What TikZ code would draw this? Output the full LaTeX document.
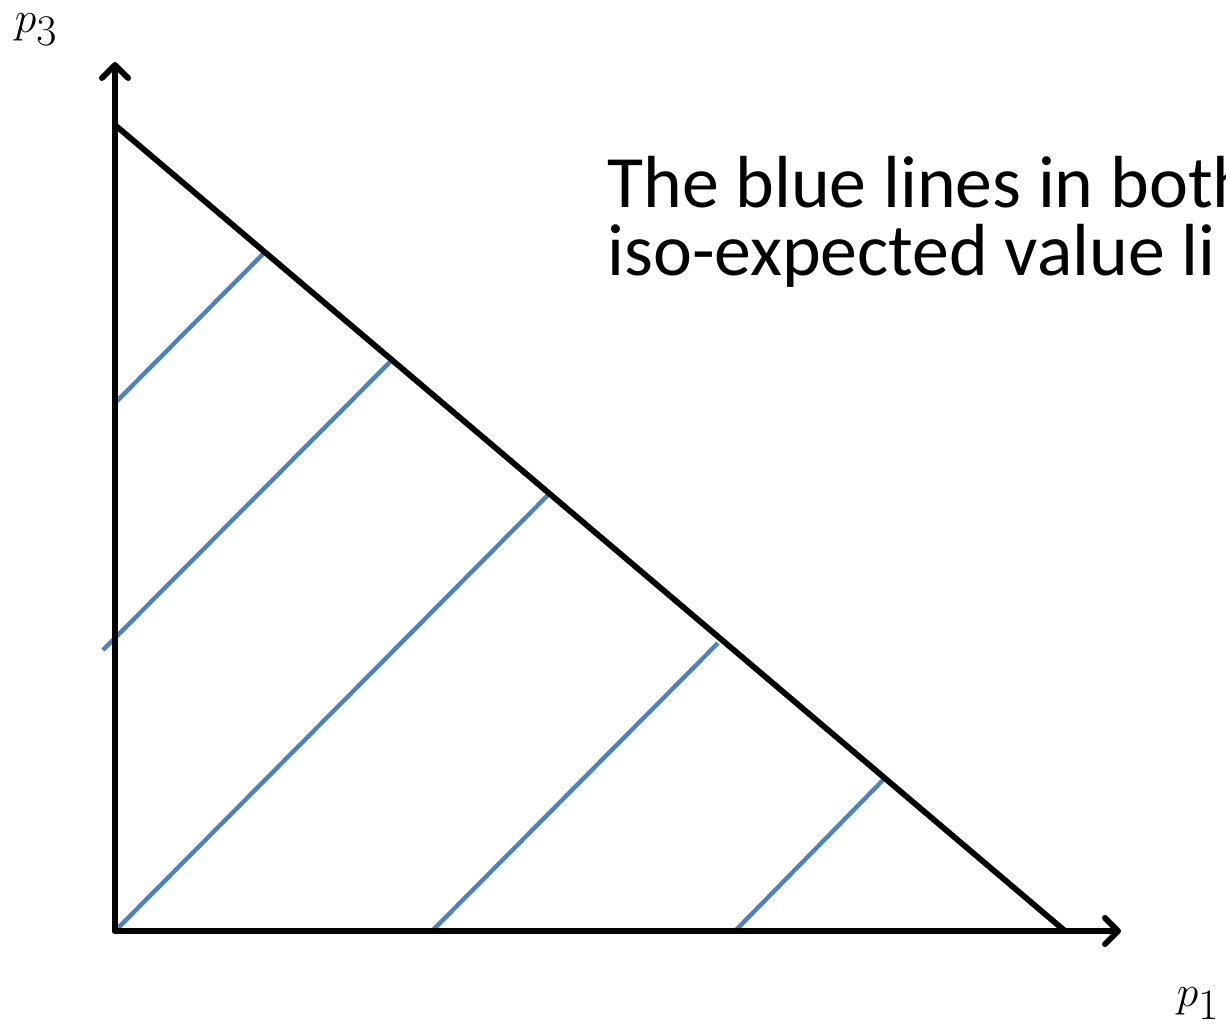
\documentclass[tikz,border=0pt]{standalone}
\usepackage{fontspec}
\setmainfont{Carlito}
\usetikzlibrary{arrows.meta}
\definecolor{IsoBlue}{RGB}{79,129,189}

\begin{document}
\begin{tikzpicture}[x=0.02cm,y=-0.02cm,
    axis/.style={line width=3.3pt,line cap=round,line join=round,
      -{Straight Barb[length=7.5pt,width=15pt,line width=3.3pt,round]}},
    edge/.style={line width=3.3pt},
    isoline/.style={IsoBlue,line width=2.5pt},
    lbl/.style={inner sep=0pt,font=\fontsize{35}{38}\selectfont}]
  \useasboundingbox (0,0) rectangle (1226,1029);
  \clip (0,0) rectangle (1226,1029);
  % axes and simplex edge
  \coordinate (O) at (115,931);
  \coordinate (ytop) at (115,62);
  \coordinate (xend) at (1121,931);
  \coordinate (hypA) at (115,125);
  \coordinate (hypB) at (1065,931);
  % iso-expected value lines
  \foreach \xa/\ya/\xb/\yb in {115/403/265/252,103/650/390/362,115/931/549/494,
                               432/931/718/643,735/931/884/779}
    \draw[isoline] (\xa,\ya) -- (\xb,\yb);
  \draw[edge] (hypA) -- (hypB);
  \draw[axis] (O) -- (ytop);
  \draw[axis] (O) -- (xend);
  \node[lbl] (pthree) at (36,30) {$p_3$};
  \node[lbl] (pone) at (1198,1004) {$p_1$};
  \node[anchor=base west,inner sep=0pt,font=\fontsize{42}{50}\selectfont]
    (txtA) at (607,207) {The blue lines in both};
  \node[anchor=base west,inner sep=0pt,font=\fontsize{42}{50}\selectfont]
    (txtB) at (607,275) {iso-expected value li};
\end{tikzpicture}
\end{document}
